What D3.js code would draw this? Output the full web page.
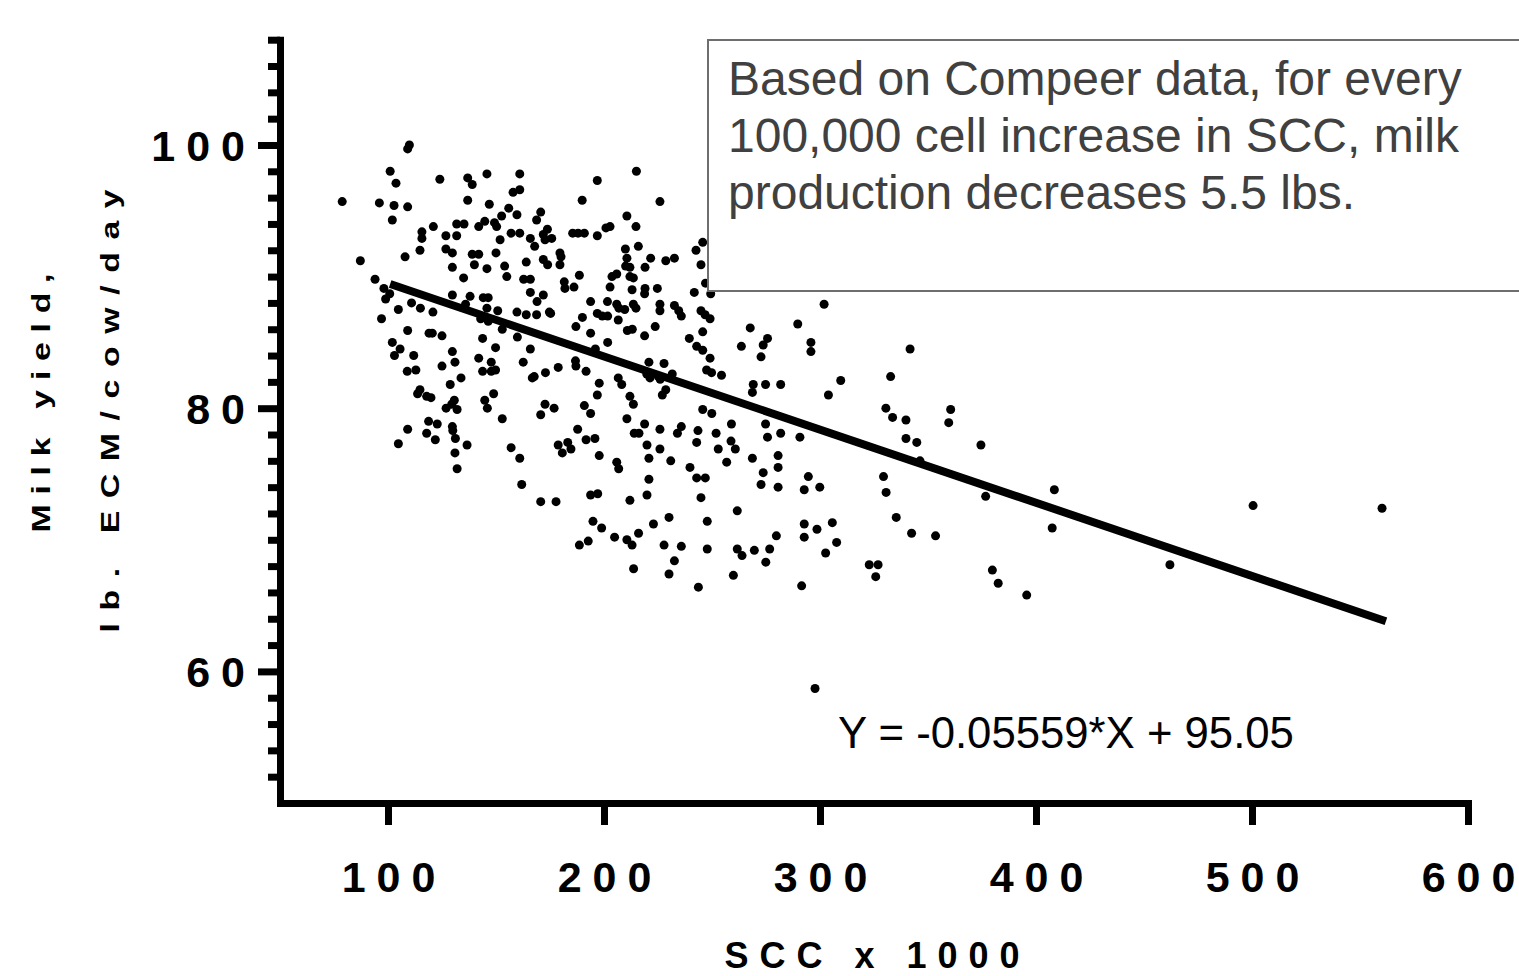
<!DOCTYPE html>
<html>
<head>
<meta charset="utf-8">
<script src="https://cdn.jsdelivr.net/npm/d3@7"></script>
<style>
  body { margin: 0; background: #fff; }
  svg text { font-family: "Liberation Sans", Arial, sans-serif; }
</style>
</head>
<body>
<div id="chart"></div>
<script>
// SCC (x1000) vs milk yield (lb ECM/cow/day)
const points = [
  [109.9,100.0],[109.1,99.7],[101,98.0],[103.7,97.1],[124,97.4],[136.9,97.5],[139,97.0],[145.8,97.8],[161,97.8],
  [78.8,95.7],[96,95.6],[102.8,95.4],[109.1,95.3],[102,94.3],[136.9,95.8],[146.9,95.5],[157.9,96.4],[161,96.6],
  [155.9,95.2],[152.6,94.6],[159.7,94.7],[168.8,94.3],[121,93.8],[115.7,93.4],[115.7,92.9],[131.8,94.0],[135.2,94.0],
  [144.8,94.2],[142,93.8],[149.3,94.1],[150.3,93.8],[126.8,93.1],[131.8,93.1],[157,93.3],[161,93.3],[151.9,92.8],
  [165.9,92.9],[167.9,92.3],[114.8,92.0],[126.8,92.1],[129.8,91.8],[139,91.7],[142,91.7],[150,91.8],[87.2,91.2],
  [107.9,91.5],[129.8,90.7],[140,90.9],[145.8,90.6],[154,90.8],[155,90.0],[164,91.1],[135,89.9],[162.8,89.8],
  [165.9,89.8],[165.9,88.8],[169,88.1],[94,89.8],[98.1,89.1],[100.8,88.7],[98.9,88.3],[110.9,88.0],[115,87.6],
  [120.8,87.3],[104.8,87.5],[97,86.8],[129.8,88.6],[138,88.5],[144.1,88.4],[146.4,88.4],[135.9,87.9],[145.8,87.6],
  [150.8,87.4],[159.7,87.3],[164,87.1],[168.8,87.1],[142.9,86.8],[146.4,86.6],
  [109.1,85.9],[119,85.7],[120.5,85.7],[125,85.5],[143.8,85.3],[159.9,85.4],[152.9,86.0],[102,85.0],[105.6,84.5],
  [103,84.0],[111.9,84.0],[129.8,84.3],[149.8,84.6],[131,83.5],[142,83.8],[147.8,83.5],[162.6,83.5],[125,83.2],
  [108.9,82.8],[112.9,82.9],[143.8,82.8],[147.8,82.8],[149.8,82.9],[133.8,82.3],[128.8,81.8],[114.8,81.4],[113.7,81.1],
  [117.9,80.9],[119.9,80.8],[148.9,81.1],[144.8,80.6],[146,80.0],[130.7,80.6],[129.5,80.3],[132,79.9],[126.9,80.0],
  [152.9,79.2],[118.8,79.0],[122.8,78.8],[109.1,78.4],[117.9,78.1],[121.9,77.6],[129.8,78.6],[130,78.3],[131.2,77.7],
  [104.8,77.3],[136.6,77.2],[157,77.0],[161,76.2],[131,76.6],[132,75.4],
  [215,98.0],[196.9,97.3],[189.9,95.8],[225.9,95.7],[170.7,94.9],[173.8,93.6],[171.9,93.2],[172.7,92.8],[175.8,92.9],
  [185.5,93.3],[188,93.3],[190.9,93.3],[196.9,93.1],[200.9,93.7],[202.8,93.8],[210.6,94.6],[214.8,93.8],[215.9,92.3],
  [209.9,92.1],[210.6,91.4],[210,90.8],[212,90.7],[213.6,89.9],[212,90.0],[221.6,91.4],[219,90.7],[228.6,91.2],
  [232.6,91.4],[242.6,92.0],[245.7,92.6],[244.9,90.9],[247,89.5],[171.9,91.3],[173.9,90.9],[179.6,91.8],[180.1,91.5],
  [179.6,90.9],[188.6,90.1],[203.7,90.0],[205.9,90.2],[181.6,89.6],[181.9,89.1],[186.1,89.2],[202.8,89.2],[213,89.0],
  [219,89.1],[218.8,88.7],[224.7,89.1],[241.8,88.8],[249.4,88.7],[171.9,88.6],
  [174.7,87.3],[175.3,87.2],[193.8,88.1],[201.6,88.1],[205.9,87.9],[206.9,87.6],[209.6,87.5],[213.6,87.9],[214.8,87.6],
  [225.9,87.9],[225.9,87.4],[232.6,87.8],[234.6,87.4],[235.8,87.0],[244.9,87.4],[246.8,87.1],[249.1,86.8],[196.9,87.2],
  [199.2,87.0],[201.7,87.0],[190,86.9],[206.6,86.7],[187,86.2],[210.8,85.9],[213.1,86.0],[223.7,86.2],[218.8,85.5],
  [193.8,85.7],[245.7,85.8],[239.5,85.3],[242.9,84.7],[245.7,84.4],[249.1,83.8],[247.5,82.9],[249.8,82.7],[201.7,85.0],
  [165.9,84.5],[178.8,83.1],[186.8,83.6],[187,83.2],[191.7,82.8],[172.9,82.7],[167.7,82.4],[166.8,82.3],[196,84.5],
  [220.8,83.5],[227.8,83.4],[219.8,82.6],[221.3,82.3],[225.2,82.4],[226,82.2],[231.6,82.6],[206.6,82.3],[208.2,81.8],
  [197.8,81.9],[196.9,81.0],[228.6,81.4],[227,81.0],[212,80.9],[213.6,80.3],[172.7,80.3],[176.9,80.0],[170.7,79.5],
  [190.9,80.2],[193.8,79.6],[210.6,79.2],[245.7,79.9],[249.9,79.6],[187.8,78.4],[218.8,78.8],[214,78.1],[216.2,78.1],
  [225.9,78.4],[234,78.1],[235.8,78.6],[243.5,78.3],[251.9,78.1],[191.7,77.6],[195.8,77.7],[178.8,77.2],[183.2,77.4],
  [180.7,76.6],[184.7,76.9],[219.9,77.2],[225.9,76.9],[242.9,77.4],[197.8,76.4],
  [205.9,75.9],[206.8,75.4],[220.8,76.2],[230.9,76.0],[239.8,75.5],[242.9,74.7],[246.9,74.7],[220.8,74.6],[161.9,74.2],
  [170.7,72.9],[177.8,72.9],[193.8,73.4],[197.1,73.5],[212,73.0],[219.9,73.4],[244.9,73.2],[194.9,71.4],[198.9,70.9],
  [188.6,69.6],[192.7,69.9],[204.9,70.2],[210.6,70.0],[213,69.6],[216,70.5],[222.9,71.2],[230.1,71.7],[247.8,71.4],
  [227.8,69.6],[235.8,69.5],[247.8,69.3],[232.6,68.4],[213.7,67.8],[230.1,67.4],[243.7,66.4],
  [254.4,82.5],[301.9,87.9],[289.7,86.4],[267.7,86.1],[275.7,85.3],[273.7,84.8],[263.6,84.7],[272.7,83.9],[295.8,85.0],
  [295.8,84.3],[269.1,81.8],[268.7,81.2],[274.8,81.8],[281.8,81.8],[309.6,82.1],[303.9,81.0],[332.7,82.4],[330.5,80.0],
  [333.6,79.3],[259,78.8],[274.8,78.8],
  [258.8,77.5],[260.8,76.9],[252.9,76.9],[256.8,75.9],[275.7,77.8],[281.8,78.1],[290.7,77.8],[268.7,76.2],[280.6,76.4],
  [280.6,75.5],[273.7,75.1],[272.7,74.2],[280.6,74.0],[294.6,74.8],[292.7,73.8],[299.9,74.0],[261.7,72.2],[292.7,71.2],
  [292.7,70.2],[298.6,70.8],[305.7,71.3],[307.7,69.8],[302.6,69.0],[279.8,70.3],[261.7,69.3],[263.9,68.8],[269.6,69.2],
  [276.7,69.3],[274.9,68.3],[259.9,67.3],[291.5,66.5],[329.4,74.8],[330.6,73.6],[335.3,71.7],[322.8,68.1],[326.9,68.1],
  [325.8,67.2],
  [341.7,84.5],[339.8,79.1],[339.8,77.7],[344.8,77.4],[346.3,76.0],[360.5,79.9],[359.6,78.9],[374.5,77.2],[342.4,70.5],
  [353.5,70.3],[376.7,73.3],[408.5,73.8],[407.5,70.9],[379.8,67.7],[382.5,66.7],[395.7,65.8],
  [462,68.1],[500.5,72.6],[560.2,72.4],[297.7,58.7]
];

// fitted line: Y = slope*X + intercept, drawn over the SCC span of the data
const slope = -0.05559;
const intercept = 95.05;
const fitRange = [101, 562];

const xTicks = [100, 200, 300, 400, 500, 600];
const yTicks = [60, 80, 100];
const yMinorTicks = d3.range(52, 109, 2).filter(v => !yTicks.includes(v));

const noteLines = [
  "Based on Compeer data, for every",
  "100,000 cell increase in SCC, milk",
  "production decreases 5.5 lbs."
];
const equationLabel = "Y = -0.05559*X + 95.05";
const xTitle = "SCC x 1000";
const yTitleLines = ["Milk yield,", "lb. ECM/cow/day"];

const width = 1519, height = 976;
const margin = {top: 39.7, right: 51, bottom: 173, left: 280};
const w = width - margin.left - margin.right;
const h = height - margin.top - margin.bottom;

// wide-tracked text: one tspan per character so no trailing gap is added
function spaced(sel, str, sp) {
    sel.text(null);
    [...str].forEach((c, i) => sel.append("tspan").attr("dx", i ? sp : 0).text(c));
}

const svg = d3.select("#chart").append("svg")
    .attr("width", width)
    .attr("height", height);

const g = svg.append("g")
    .attr("transform", "translate(" + margin.left + "," + margin.top + ")");

const x = d3.scaleLinear().domain([50, 600]).range([0, w]);
const y = d3.scaleLinear().domain([50, 108]).range([h, 0]);

const axisStroke = 7;
const tickFont = 43, tickSpacing = 11;

// y axis: minor ticks first, then major with labels
g.append("g")
    .call(d3.axisLeft(y).tickValues(yMinorTicks).tickSize(12).tickSizeOuter(0).tickFormat(""))
    .call(a => a.select(".domain").remove())
    .selectAll("line").attr("stroke", "#000").attr("stroke-width", axisStroke);

const yAxisG = g.append("g")
    .call(d3.axisLeft(y).tickValues(yTicks).tickSize(22).tickSizeOuter(0).tickPadding(13));
yAxisG.select(".domain").attr("stroke", "#000").attr("stroke-width", axisStroke).attr("stroke-linecap", "square");
yAxisG.selectAll(".tick line").attr("stroke", "#000").attr("stroke-width", axisStroke);
yAxisG.selectAll(".tick text")
    .attr("fill", "#000")
    .style("font-size", tickFont + "px")
    .style("font-weight", "bold")
    .attr("dy", "0.36em")
    .each(function(d) { spaced(d3.select(this), String(d), tickSpacing); });

// x axis
const xAxisG = g.append("g")
    .attr("transform", "translate(0," + h + ")")
    .call(d3.axisBottom(x).tickValues(xTicks).tickSize(22).tickSizeOuter(0).tickPadding(36));
xAxisG.select(".domain").attr("stroke", "#000").attr("stroke-width", axisStroke).attr("stroke-linecap", "square");
xAxisG.selectAll(".tick line").attr("stroke", "#000").attr("stroke-width", axisStroke);
xAxisG.selectAll(".tick text")
    .attr("fill", "#000")
    .style("font-size", tickFont + "px")
    .style("font-weight", "bold")
    .attr("dy", "0.71em")
    .each(function(d) { spaced(d3.select(this), String(d), tickSpacing); });

// scatter
g.append("g").selectAll("circle")
    .data(points)
    .join("circle")
    .attr("cx", d => x(d[0]))
    .attr("cy", d => y(d[1]))
    .attr("r", 4.5)
    .attr("fill", "#000");

// regression line
g.append("line")
    .attr("x1", x(fitRange[0]))
    .attr("y1", y(slope * fitRange[0] + intercept))
    .attr("x2", x(fitRange[1]))
    .attr("y2", y(slope * fitRange[1] + intercept))
    .attr("stroke", "#000")
    .attr("stroke-width", 8);

// equation
svg.append("text")
    .attr("x", 838)
    .attr("y", 748)
    .style("font-size", "43.7px")
    .attr("fill", "#000")
    .text(equationLabel);

// annotation box (sits over the points)
svg.append("rect")
    .attr("x", 708)
    .attr("y", 40)
    .attr("width", 900)
    .attr("height", 251)
    .attr("fill", "#fff")
    .attr("stroke", "#6e6e6e")
    .attr("stroke-width", 2);

svg.append("text")
    .attr("x", 728)
    .attr("y", 95)
    .style("font-size", "48px")
    .attr("fill", "#404040")
    .selectAll("tspan")
    .data(noteLines)
    .join("tspan")
    .attr("x", 728)
    .attr("dy", (d, i) => i === 0 ? 0 : 57)
    .text(d => d);

// axis titles
svg.append("text")
    .attr("x", 872)
    .attr("y", 968)
    .attr("text-anchor", "middle")
    .style("font-size", "36px")
    .style("font-weight", "bold")
    .call(t => spaced(t, xTitle, 11));

// y title glyphs are drawn a bit stretched along the text direction
const yStretch = 1.3;
svg.append("text")
    .attr("transform", "translate(50,403) rotate(-90) scale(" + yStretch + ",1)")
    .attr("text-anchor", "middle")
    .style("font-size", "26px")
    .style("font-weight", "bold")
    .call(t => spaced(t, yTitleLines[0], 7.5));

svg.append("text")
    .attr("transform", "translate(119,411) rotate(-90) scale(" + yStretch + ",1)")
    .attr("text-anchor", "middle")
    .style("font-size", "26px")
    .style("font-weight", "bold")
    .call(t => spaced(t, yTitleLines[1], 9.7));
</script>
</body>
</html>
